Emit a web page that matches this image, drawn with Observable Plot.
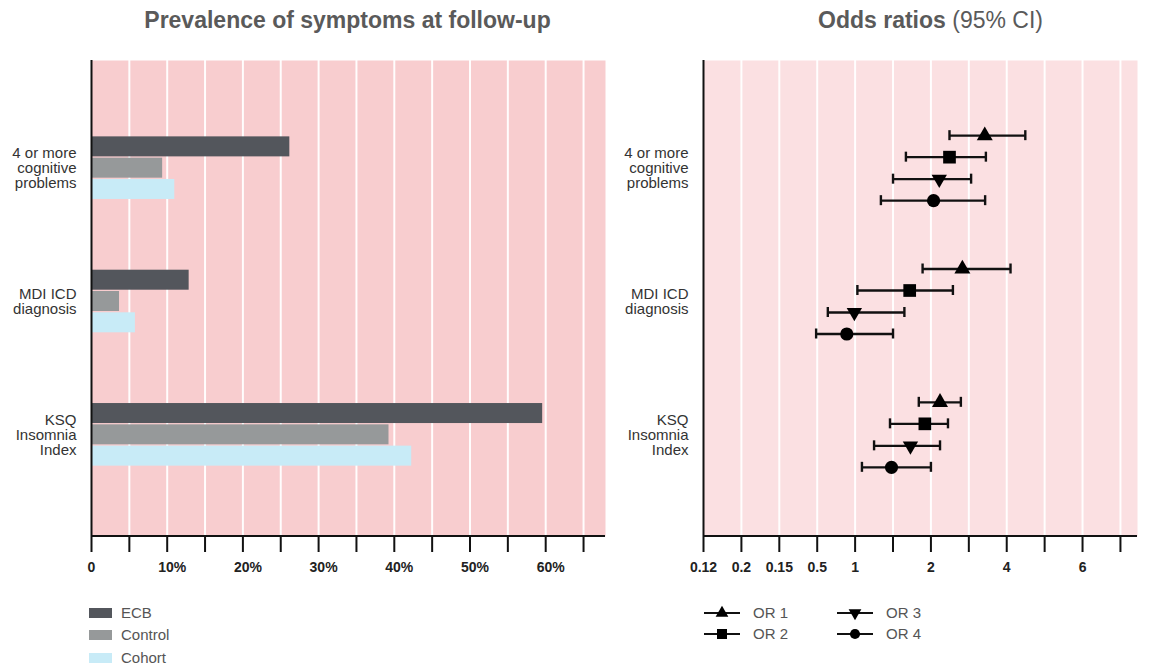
<!DOCTYPE html>
<html>
<head>
<meta charset="utf-8">
<script src="https://cdn.jsdelivr.net/npm/d3@7"></script>
<script src="https://cdn.jsdelivr.net/npm/@observablehq/plot@0.6"></script>
<style>
  body { margin: 0; background: #fff; font-family: "Liberation Sans", Arial, Helvetica, sans-serif; }
  #root { position: relative; width: 1149px; height: 667px; overflow: hidden; background: #fff; }
  .panel { position: absolute; top: 0; }
  .title { position: absolute; top: 9px; font-size: 23px; line-height: 23px; color: #5a5a5a; white-space: nowrap; transform: translateX(-50%); }
  .title b { font-weight: bold; }
  .title span { font-weight: normal; }
  .sw { position: absolute; width: 23px; height: 10px; }
  .lt { position: absolute; font-size: 15px; line-height: 15px; color: #555; white-space: nowrap; }
</style>
</head>
<body>
<div id="root"></div>
<script>
// ---------- data ----------
const categories = ["4 or more\ncognitive\nproblems", "MDI ICD\ndiagnosis", "KSQ\nInsomnia\nIndex"];
const groups = ["ECB", "Control", "Cohort"];
const ecbPct = [26.2, 12.9, 59.6];
const controlPct = [9.4, 3.7, 39.3];
const cohortPct = [11.0, 5.8, 42.3];
const pctTicks = [0, 5, 10, 15, 20, 25, 30, 35, 40, 45, 50, 55, 60, 65];
const pctLabels = [10, 20, 30, 40, 50, 60];

const orNames = ["OR 1", "OR 2", "OR 3", "OR 4"];
const or1 = [3.42, 2.83, 2.24], or1Low = [2.49, 1.89, 1.84], or1High = [4.49, 4.10, 2.79];
const or2 = [2.49, 1.72, 1.92], or2Low = [1.67, 1.03, 1.46], or2High = [3.45, 2.58, 2.45];
const or3 = [2.22, 0.99, 1.73], or3Low = [1.50, 0.64, 1.25], or3High = [3.06, 1.65, 2.24];
const or4 = [2.07, 0.89, 1.48], or4Low = [1.34, 0.49, 1.09], or4High = [3.43, 1.50, 2.00];
const oddsTickLabels = ["0.12", "0.2", "0.15", "0.5", "1", "", "2", "", "4", "", "6", ""];

// ---------- styles ----------
const groupColors = { ECB: "#53565c", Control: "#96999a", Cohort: "#c8ebf7" };
const groupDy = { ECB: -21.3, Control: 0, Cohort: 21.3 };
const orDy = [-32.5, -11, 11, 32.5];
const font = '"Liberation Sans", Arial, Helvetica, sans-serif';

// custom down-pointing triangle symbol
const triangleDown = {
  draw(context, size) {
    const s3 = Math.sqrt(3);
    const y = -Math.sqrt(size / (s3 * 3));
    context.moveTo(0, -y * 2);
    context.lineTo(-s3 * y, y);
    context.lineTo(s3 * y, y);
    context.closePath();
  }
};
const orSymbols = [d3.symbolTriangle, d3.symbolSquare, triangleDown, d3.symbolCircle];
const orPlotSymbols = ["triangle", "square", triangleDown, "circle"];
const orR = [5.94, 7.16, 5.7, 6.6];

// odds-ratio -> axis position (piecewise through labelled ticks)
const anchorIdx = [2, 3, 4, 6, 8, 10];
const orPos = d3.scaleLinear().domain(anchorIdx.map(i => +oddsTickLabels[i])).range(anchorIdx);

const root = document.getElementById("root");

// ---------- tables ----------
const pctSeries = [ecbPct, controlPct, cohortPct];
const barRows = groups.flatMap((g, gi) => categories.map((c, ci) => ({ cat: c, group: g, v: pctSeries[gi][ci] })));
const orSeries = [[or1, or1Low, or1High], [or2, or2Low, or2High], [or3, or3Low, or3High], [or4, or4Low, or4High]];
const orRows = orNames.flatMap((n, k) => categories.map((c, ci) => ({
  cat: c, k, name: n, or: orSeries[k][0][ci], lo: orSeries[k][1][ci], hi: orSeries[k][2][ci]
})));

const H = 590, MT = 60, MB = 54;
const plotH = H - MT - MB;
const yOpts = { domain: categories, range: [101, 501], paddingInner: 0.85, paddingOuter: 0.425, align: 0.5, round: false, axis: null, label: null };

function yAxis() {
  return Plot.axisY({ tickSize: 0, tickPadding: 15, fontSize: 15, lineHeight: 1, fill: "#333", label: null });
}

// ---------- left panel ----------
const leftXMax = 67.9;
const left = Plot.plot({
  width: 615, height: H,
  marginLeft: 91, marginRight: 10, marginTop: MT, marginBottom: MB,
  style: { fontFamily: font, background: "transparent", overflow: "visible" },
  x: { domain: [0, leftXMax], axis: null, label: null },
  y: yOpts,
  marks: [
    Plot.frame({ fill: "#f8cdcf", stroke: null }),
    Plot.ruleX(pctTicks.filter(d => d > 0), { stroke: "#fff", strokeWidth: 2, strokeOpacity: 0.95 }),
    ...groups.map(g => Plot.barX(barRows.filter(d => d.group === g), {
      x1: 0, x2: "v", y: "cat", fill: groupColors[g], dy: groupDy[g]
    })),
    Plot.ruleX([0], { stroke: "#111", strokeWidth: 2 }),
    Plot.barX([0], { x1: 0, x2: leftXMax, fill: "#111", insetTop: plotH - 1, insetBottom: -1 }),
    Plot.axisX({ ticks: pctTicks, tickSize: 16, strokeWidth: 2, stroke: "#111", tickFormat: () => "", label: null }),
    Plot.axisX({ ticks: [0], tickSize: 0, tickPadding: 25.5, fontSize: 14, fontWeight: "bold", fill: "#222", tickFormat: d => String(d), label: null }),
    Plot.axisX({ ticks: pctLabels, tickSize: 0, tickPadding: 25.5, dx: 5, fontSize: 14, fontWeight: "bold", fill: "#222", tickFormat: d => d + "%", label: null }),
    yAxis()
  ]
});
left.classList.add("panel");
left.style.left = "0px";
root.appendChild(left);

// ---------- right panel ----------
const rightXMax = 11.45;
const right = Plot.plot({
  width: 549, height: H,
  marginLeft: 103, marginRight: 12, marginTop: MT, marginBottom: MB,
  style: { fontFamily: font, background: "transparent", overflow: "visible" },
  x: { domain: [0, rightXMax], axis: null, label: null },
  y: yOpts,
  marks: [
    Plot.frame({ fill: "#fbe0e2", stroke: null }),
    Plot.ruleX(d3.range(1, oddsTickLabels.length), { stroke: "#fff", strokeWidth: 2, strokeOpacity: 0.95 }),
    ...orNames.map((n, k) => Plot.ruleY(orRows.filter(d => d.k === k), {
      x1: d => orPos(d.lo), x2: d => orPos(d.hi), y: "cat", dy: orDy[k], stroke: "#111", strokeWidth: 2.4
    })),
    ...orNames.flatMap((n, k) => ["lo", "hi"].map(f => Plot.tickX(orRows.filter(d => d.k === k), {
      x: d => orPos(d[f]), y: "cat", dy: orDy[k], insetTop: 5, insetBottom: 5, stroke: "#111", strokeWidth: 2.4
    }))),
    ...orNames.map((n, k) => Plot.dot(orRows.filter(d => d.k === k), {
      x: d => orPos(d.or), y: "cat", dy: orDy[k], symbol: orPlotSymbols[k], r: orR[k], fill: "#000", stroke: null
    })),
    Plot.ruleX([0], { stroke: "#111", strokeWidth: 2 }),
    Plot.barX([0], { x1: 0, x2: rightXMax, fill: "#111", insetTop: plotH - 1, insetBottom: -1 }),
    Plot.axisX({ ticks: d3.range(0, oddsTickLabels.length), tickSize: 16, strokeWidth: 2, stroke: "#111", tickFormat: () => "", label: null }),
    Plot.axisX({ ticks: d3.range(0, oddsTickLabels.length).filter(i => oddsTickLabels[i] !== ""), tickSize: 0, tickPadding: 25.5,
      fontSize: 14, fontWeight: "bold", fill: "#222", tickFormat: i => oddsTickLabels[i], label: null }),
    yAxis()
  ]
});
right.classList.add("panel");
right.style.left = "600px";
root.appendChild(right);

// ---------- titles ----------
const t1 = document.createElement("div");
t1.className = "title"; t1.style.left = "347.5px";
t1.innerHTML = "<b>Prevalence of symptoms at follow-up</b>";
root.appendChild(t1);
const t2 = document.createElement("div");
t2.className = "title"; t2.style.left = "930.5px";
t2.innerHTML = "<b>Odds ratios</b><span> (95% CI)</span>";
root.appendChild(t2);

// ---------- left legend ----------
const legRowsY = [612.7, 635, 657.5];
groups.forEach((g, i) => {
  const sw = document.createElement("div");
  sw.className = "sw";
  sw.style.left = "89px"; sw.style.top = (legRowsY[i] - 5) + "px";
  sw.style.background = groupColors[g];
  root.appendChild(sw);
  const tx = document.createElement("div");
  tx.className = "lt";
  tx.style.left = "121px"; tx.style.top = (legRowsY[i] - 8) + "px";
  tx.textContent = g;
  root.appendChild(tx);
});

// ---------- right legend ----------
const legSvg = d3.create("svg").attr("width", 320).attr("height", 60)
  .style("position", "absolute").style("left", "690px").style("top", "595px")
  .style("font-family", font);
const legPos = [[14, 18], [14, 39], [147, 18], [147, 39]]; // OR1, OR2, OR3, OR4
const legSizes = [70, 100, 70, 80];
orNames.forEach((n, k) => {
  const [x0, y0] = legPos[k];
  legSvg.append("line").attr("x1", x0).attr("x2", x0 + 36).attr("y1", y0).attr("y2", y0)
    .attr("stroke", "#111").attr("stroke-width", 2);
  legSvg.append("path").attr("d", d3.symbol().type(orSymbols[k]).size(legSizes[k])())
    .attr("transform", `translate(${x0 + 18},${y0})`).attr("fill", "#000");
  legSvg.append("text").attr("x", x0 + 49).attr("y", y0).attr("dy", "0.36em")
    .attr("font-size", 15).attr("fill", "#555").text(n);
});
root.appendChild(legSvg.node());
</script>
</body>
</html>
